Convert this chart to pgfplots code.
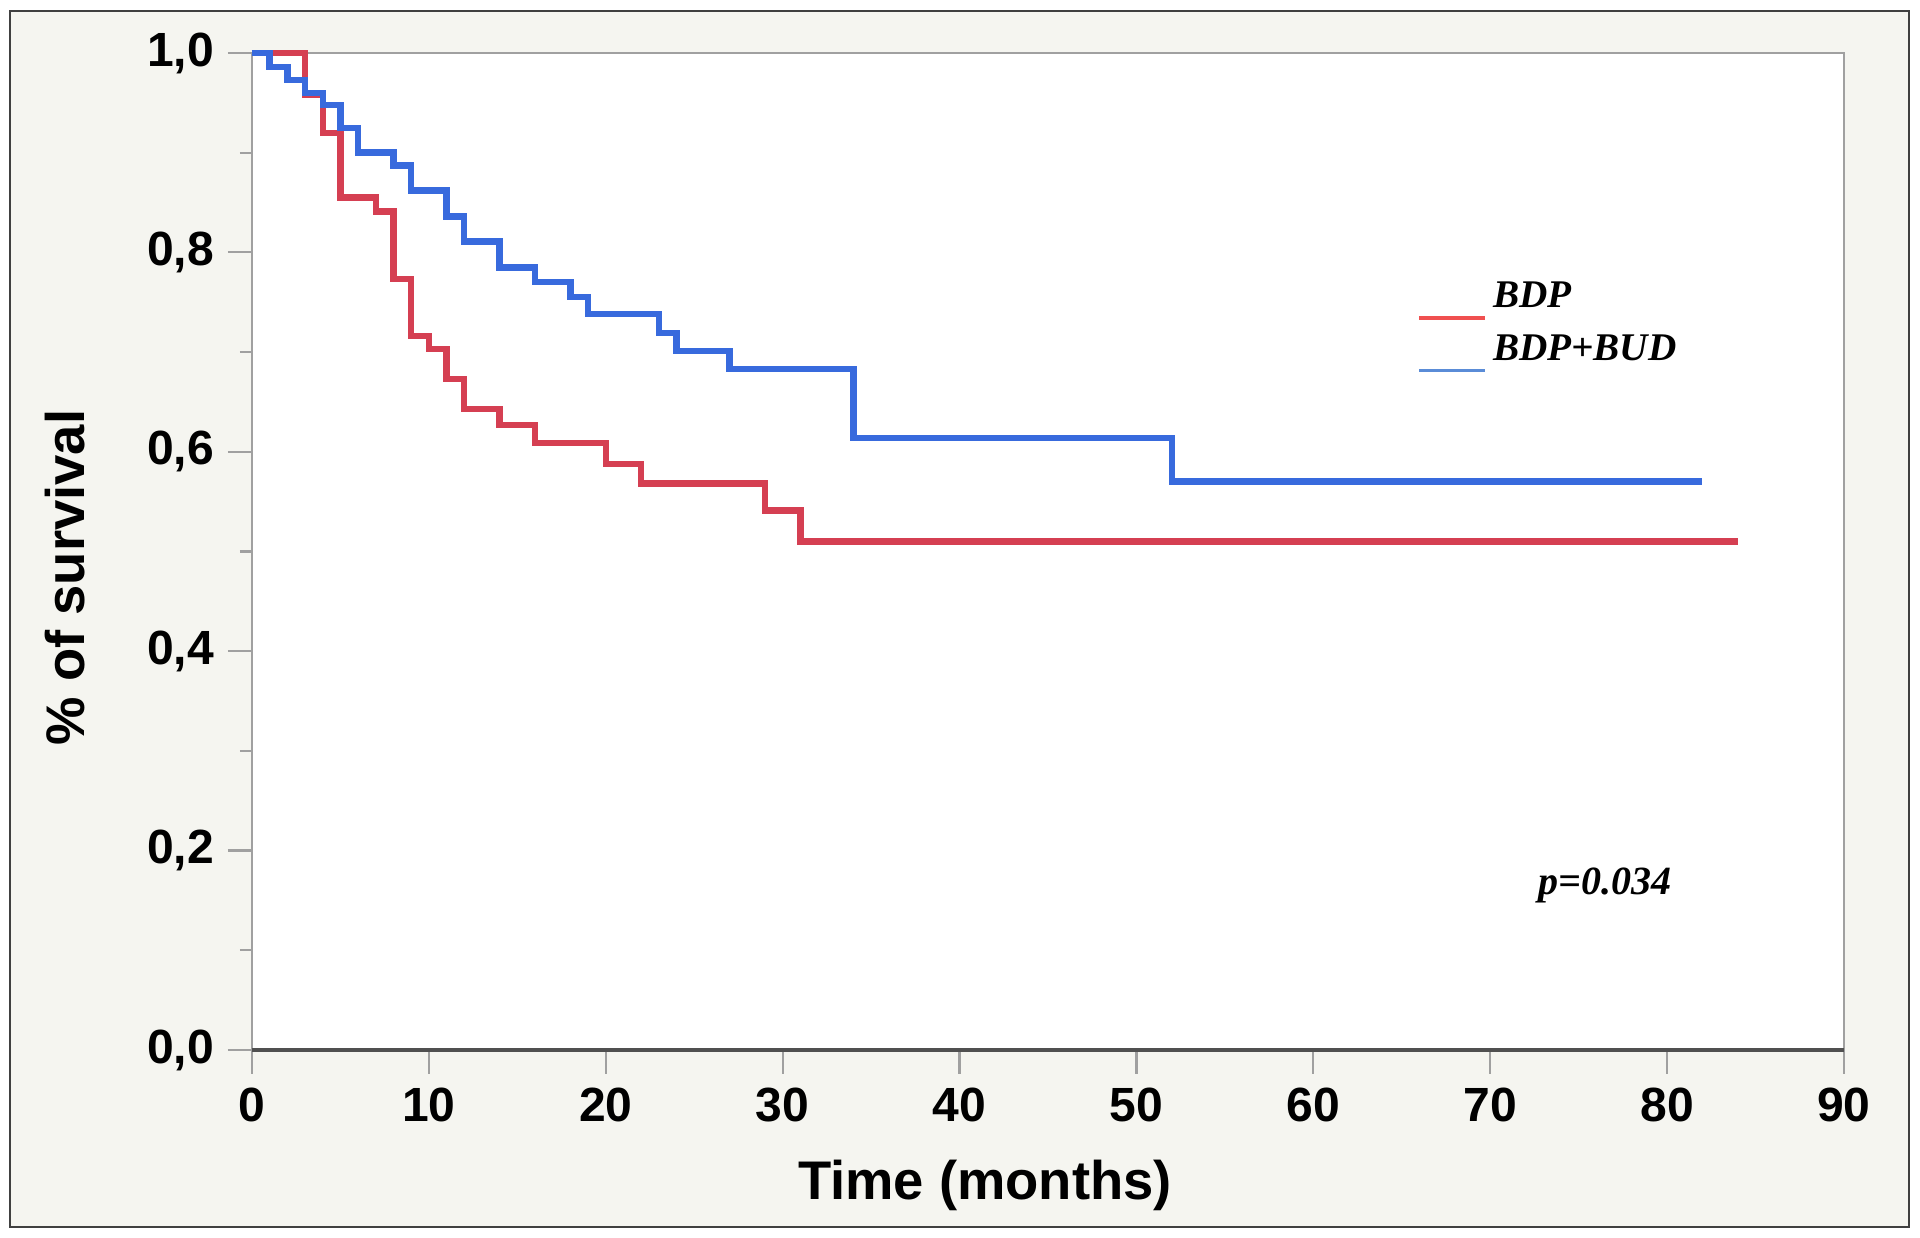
\documentclass[border=0pt]{standalone}
\usepackage{fontspec}
\setmainfont{Liberation Sans}
\newfontfamily\legfont{Liberation Serif}
\usepackage{pgfplots}
\pgfplotsset{compat=1.18}
\definecolor{bgcol}{RGB}{245,245,240}
\definecolor{kmred}{RGB}{213,63,82}
\definecolor{kmblue}{RGB}{56,106,221}
\definecolor{legred}{RGB}{240,80,80}
\definecolor{legblue}{RGB}{90,140,215}
\definecolor{axgray}{RGB}{160,160,160}
\definecolor{axdark}{RGB}{80,80,80}
\begin{document}
\begin{tikzpicture}
\fill[white] (0pt,0pt) rectangle (480pt,309.5pt);
\fill[bgcol] (2.5pt,2.75pt) rectangle (477.25pt,306.75pt);
\draw[color=black!75, line width=0.5pt] (2.5pt,2.75pt) rectangle (477.25pt,306.75pt);
\begin{axis}[
  at={(63pt,47pt)}, anchor=south west,
  scale only axis, width=398pt, height=249.25pt,
  xmin=0, xmax=90, ymin=0, ymax=1,
  axis background/.style={fill=white},
  axis line style={color=axgray, line width=0.55pt},
  xtick={0,10,...,90}, ytick={0,0.2,...,1.0},
  minor y tick num=1,
  xtick pos=bottom, ytick pos=left,
  tick align=outside,
  major tick length=6pt, minor tick length=3pt,
  tick style={color=axgray, line width=0.55pt},
  /pgf/number format/assume math mode=true,
  yticklabel style={/pgf/number format/.cd, use comma, fixed, fixed zerofill, precision=1},
  ticklabel style={font=\fontsize{12}{14}\selectfont\bfseries},
  xlabel={Time (months)},
  ylabel={\% of survival},
  label style={font=\fontsize{13.6}{16}\selectfont\bfseries},
  xlabel style={at={(axis description cs:0.4604,-0.150)}, anchor=base},
  ylabel style={at={(axis description cs:-0.105,0.474)}, anchor=base},
  clip=false,
  legend style={at={(axis description cs:0.7318,0.779)}, anchor=north west,
    draw=none, fill=none, inner sep=0pt,
    font=\fontsize{9.8}{11}\legfont\bfseries\itshape,
    row sep=1.2pt, column sep=-0.5pt},
  legend cell align=left,
  legend image code/.code={\draw[#1] (0pt,-5pt) -- (16.5pt,-5pt);},
]
\addplot[const plot, color=kmred, line width=1.6pt, forget plot] coordinates {
(0,1.000) (3,0.958) (4,0.920) (5,0.855) (7,0.841) (8,0.773) (9,0.716)
(10,0.703) (11,0.673) (12,0.643) (14,0.627) (16,0.609) (20,0.588)
(22,0.568) (29,0.541) (31,0.510) (84,0.510)};
\addplot[const plot, color=kmblue, line width=1.6pt, forget plot] coordinates {
(0,1.000) (1,0.986) (2,0.973) (3,0.960) (4,0.948) (5,0.925) (6,0.900)
(8,0.887) (9,0.862) (11,0.836) (12,0.811) (14,0.785) (16,0.770)
(18,0.755) (19,0.738) (23,0.719) (24,0.701) (27,0.683) (34,0.614)
(52,0.570) (82,0.570)};
\addlegendimage{color=legred, line width=0.8pt}
\addlegendentry{BDP}
\addlegendimage{color=legblue, line width=0.8pt}
\addlegendentry{BDP+BUD}
\draw[color=axdark, line width=0.8pt] (rel axis cs:0,0) -- (rel axis cs:1,0);
\node[anchor=base west, inner sep=0pt, font=\fontsize{10}{12}\legfont\bfseries\itshape] at (axis cs:72.7,0.156) {p=0.034};
\end{axis}
\end{tikzpicture}
\end{document}
